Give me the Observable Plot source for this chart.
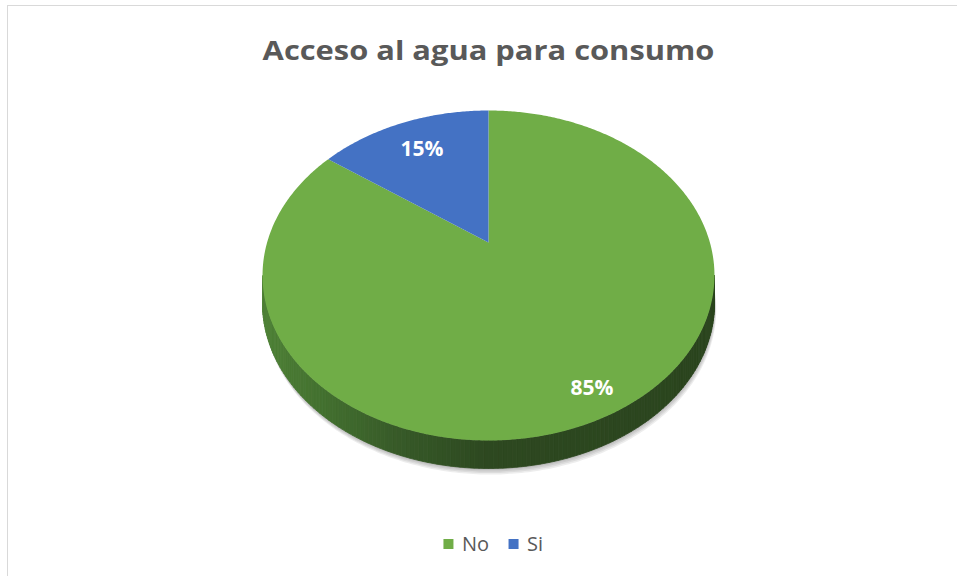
<!DOCTYPE html>
<html><head><meta charset="utf-8">
<script src="https://cdn.jsdelivr.net/npm/d3@7"></script>
<script src="https://cdn.jsdelivr.net/npm/@observablehq/plot@0.6"></script>
<style>
body{margin:0;background:#fff;overflow:hidden;width:957px;height:576px}
#frame{position:absolute;left:7px;top:5px;width:1000px;height:1000px;border:1.5px solid #d9d9d9}
#chart{position:absolute;left:0;top:0}
</style></head><body><div id="frame"></div><div id="chart"></div>
<script>
const title = "Acceso al agua para consumo";
const categories = ["No", "Si"];
const values = [85, 15];
const colors = ["#70ad47", "#4472c4"];
const labels = ["85%", "15%"];

const W = 957, H = 576;
const cx = 488, cy = 275, rx = 221.4, ry = 165, persp = 0.2, depth = 28;
const FONT = "'Open Sans', Lato, sans-serif";

// perspective projection of a point on the (unit) pie top
function proj(theta, r = 1, dz = 0) {
  const u = r * Math.sin(theta), v = -r * Math.cos(theta);
  const w = 1 - persp * v;
  return [cx + rx * u / w, cy + ry * (v - persp) / w + dz];
}

// slices (clockwise from 12 o'clock, like Excel)
const total = d3.sum(values);
let acc = 0;
const slices = categories.map((c, i) => {
  const a0 = acc / total * 2 * Math.PI;
  acc += values[i];
  const a1 = acc / total * 2 * Math.PI;
  return {cat: c, color: colors[i], value: values[i], label: labels[i], a0, a1};
});
const sliceRows = [];
for (const s of slices) {
  sliceRows.push({cat: s.cat, color: s.color, p: proj(0, 0)});
  const n = Math.max(4, Math.ceil((s.a1 - s.a0) / 0.01));
  for (let k = 0; k <= n; k++) sliceRows.push({cat: s.cat, color: s.color, p: proj(s.a0 + (s.a1 - s.a0) * k / n)});
  sliceRows.push({cat: s.cat, color: s.color, p: proj(0, 0)});
}

// visible side wall (front) of the big slice, as shaded strips
const tR = Math.acos(-persp), tL = 2 * Math.PI - tR;
const shade = d3.scaleLinear()
  .domain([0, 0.12, 0.3, 0.5, 1].map(t => cx - rx * 1.02 + t * rx * 2.04))
  .range(["#4f8237", "#447230", "#375a28", "#2d4820", "#2b451e"])
  .interpolate(d3.interpolateRgb).clamp(true);
const sideRows = [];
const ns = 160;
for (let k = 0; k < ns; k++) {
  const t0 = tR + (tL - tR) * k / ns, t1 = tR + (tL - tR) * (k + 1) / ns;
  const pts = [proj(t0), proj(t1), proj(t1, 1, depth), proj(t0, 1, depth), proj(t0)];
  const col = shade((pts[0][0] + pts[1][0]) / 2);
  for (const p of pts) sideRows.push({k, color: col, p});
}

// soft shadow under the pie: offset copies of the bottom outline
const shadowRows = [];
[1.5, 3, 4.5, 6].forEach((off, j) => {
  for (let k = 0; k <= 120; k++) {
    const t = tR - 0.15 + (tL - tR + 0.3) * k / 120;
    const p = proj(t, 1, depth + off);
    shadowRows.push({j, p: [p[0] + off * 0.3, p[1]]});
  }
  shadowRows.push({j, p: proj(Math.PI, 0.2, 0)});
});

// labels
const labelRows = slices.map(s => {
  const m = (s.a0 + s.a1) / 2;
  const r = s.value > 50 ? 0.87 : 0.75;
  return {label: s.label, p: proj(m, r)};
});

// legend layout
const ctx = document.createElement("canvas").getContext("2d");
ctx.font = `20px ${FONT}`;
const sq = 10, gapSq = 8, gapItem = 20;
const widths = categories.map(c => sq + gapSq + ctx.measureText(c).width);
const legW = d3.sum(widths) + gapItem * (categories.length - 1);
let lx = 493 - legW / 2;
const legendRows = categories.map((c, i) => {
  const r = {cat: c, color: colors[i], x: lx};
  lx += widths[i] + gapItem;
  return r;
});
const legY = 544;

const plot = Plot.plot({
  width: W, height: H, margin: 0,
  x: {domain: [0, W], range: [0, W], axis: null},
  y: {domain: [0, H], range: [0, H], axis: null},
  marks: [
    Plot.line(shadowRows, {x: d => d.p[0], y: d => d.p[1], z: "j", fill: "black", fillOpacity: 0.07, stroke: "none", curve: "catmull-rom"}),
    Plot.line(sideRows, {x: d => d.p[0], y: d => d.p[1], z: "k", fill: "color", stroke: "color", strokeWidth: 0.8, curve: "linear"}),
    Plot.line(sliceRows, {x: d => d.p[0], y: d => d.p[1], z: "cat", fill: "color", stroke: "none", curve: "linear"}),
    Plot.text(labelRows, {x: d => d.p[0], y: d => d.p[1], text: "label", fill: "white", fontSize: 21, fontWeight: "bold", fontFamily: FONT}),
    Plot.text([title], {x: () => cx, y: () => 51, text: d => d, fill: "#595959", fontSize: 27, fontWeight: "bold", fontFamily: FONT}),
    Plot.rect(legendRows, {x1: d => d.x, x2: d => d.x + sq, y1: () => legY - sq / 2, y2: () => legY + sq / 2, fill: "color"}),
    Plot.text(legendRows, {x: d => d.x + sq + gapSq, y: () => legY, text: "cat", textAnchor: "start", fill: "#595959", fontSize: 20, fontFamily: FONT})
  ]
});

document.getElementById("chart").appendChild(plot);

// stretch title horizontally to the reference width (Calibri-like proportions)
const targetW = 452;
plot.querySelectorAll("text").forEach(t => {
  if (t.textContent !== title) return;
  const w = t.getComputedTextLength();
  if (w > 0) {
    const s = targetW / w;
    const g = document.createElementNS("http://www.w3.org/2000/svg", "g");
    g.setAttribute("transform", `translate(${cx},0) scale(${s},1) translate(${-cx},0)`);
    t.parentNode.insertBefore(g, t);
    g.appendChild(t);
  }
});
</script>
</body></html>
